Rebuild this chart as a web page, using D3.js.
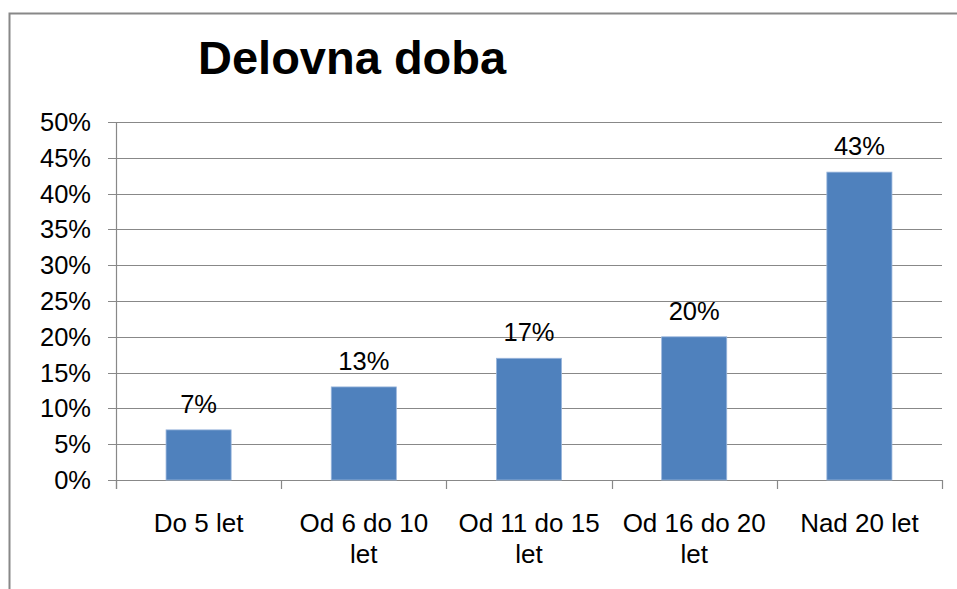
<!DOCTYPE html>
<html>
<head>
<meta charset="utf-8">
<script src="https://cdn.jsdelivr.net/npm/d3@7"></script>
<style>
  body { margin: 0; background: #fff; }
  text { font-family: "Liberation Sans", Arial, sans-serif; fill: #000; }
</style>
</head>
<body>
<svg id="chart" width="957" height="589"></svg>
<script>
const categories = [["Do 5 let"], ["Od 6 do 10", "let"], ["Od 11 do 15", "let"], ["Od 16 do 20", "let"], ["Nad 20 let"]];
const values = [0.07, 0.13, 0.17, 0.20, 0.43];
const yTicks = [0, 0.05, 0.10, 0.15, 0.20, 0.25, 0.30, 0.35, 0.40, 0.45, 0.50];

const svg = d3.select('#chart');

// chart frame, runs off the right and bottom edges
svg.append('rect')
  .attr('x', 9.5).attr('y', 13.5)
  .attr('width', 1000).attr('height', 1000)
  .attr('fill', '#fff')
  .attr('stroke', '#888').attr('stroke-width', 2);

svg.append('text')
  .attr('x', 198).attr('y', 74)
  .style('font-size', '47px').style('font-weight', 'bold')
  .text('Delovna doba');

const plotLeft = 116, plotRight = 942, plotTop = 122, plotBottom = 480;

const x = d3.scaleBand()
  .domain(d3.range(categories.length))
  .range([plotLeft, plotRight]);

const y = d3.scaleLinear()
  .domain([0, 0.5])
  .range([plotBottom, plotTop]);

// gridlines
svg.append('g')
  .selectAll('line')
  .data(yTicks)
  .join('line')
    .attr('x1', plotLeft - 8).attr('x2', plotRight)
    .attr('y1', d => Math.round(y(d)) + 0.5)
    .attr('y2', d => Math.round(y(d)) + 0.5)
    .attr('stroke', '#888').attr('stroke-width', 1.2);

// y axis line
svg.append('line')
  .attr('x1', plotLeft + 0.5).attr('x2', plotLeft + 0.5)
  .attr('y1', plotTop).attr('y2', plotBottom + 9)
  .attr('stroke', '#888').attr('stroke-width', 1.2);

// category ticks
svg.append('g')
  .selectAll('line')
  .data(d3.range(categories.length + 1))
  .join('line')
    .attr('x1', i => Math.round(plotLeft + i * x.step()) + 0.5)
    .attr('x2', i => Math.round(plotLeft + i * x.step()) + 0.5)
    .attr('y1', plotBottom).attr('y2', plotBottom + 9)
    .attr('stroke', '#888').attr('stroke-width', 1.2);

// y tick labels
svg.append('g')
  .selectAll('text')
  .data(yTicks)
  .join('text')
    .attr('x', 91)
    .attr('y', d => y(d))
    .attr('dy', '0.35em')
    .attr('text-anchor', 'end')
    .style('font-size', '25.5px')
    .text(d3.format('.0%'));

const barW = x.bandwidth() * 0.394;

svg.append('g')
  .selectAll('rect')
  .data(values)
  .join('rect')
    .attr('x', (d, i) => x(i) + (x.bandwidth() - barW) / 2)
    .attr('y', d => y(d))
    .attr('width', barW)
    .attr('height', d => plotBottom - y(d))
    .attr('fill', '#4f81bd')
    .attr('stroke', '#9ab6dc').attr('stroke-width', 0.8);

// value labels
svg.append('g')
  .selectAll('text')
  .data(values)
  .join('text')
    .attr('x', (d, i) => x(i) + x.bandwidth() / 2)
    .attr('y', d => y(d) - 17)
    .attr('text-anchor', 'middle')
    .style('font-size', '25.5px')
    .text(d3.format('.0%'));

// category labels
svg.append('g')
  .selectAll('text')
  .data(categories)
  .join('text')
    .attr('text-anchor', 'middle')
    .style('font-size', '26px')
    .attr('x', (d, i) => x(i) + x.bandwidth() / 2)
    .attr('y', 532)
    .selectAll('tspan')
    .data(d => d)
    .join('tspan')
      .attr('x', function () { return this.parentNode.getAttribute('x'); })
      .attr('dy', (d, i) => i ? 31 : 0)
      .text(d => d);
</script>
</body>
</html>
